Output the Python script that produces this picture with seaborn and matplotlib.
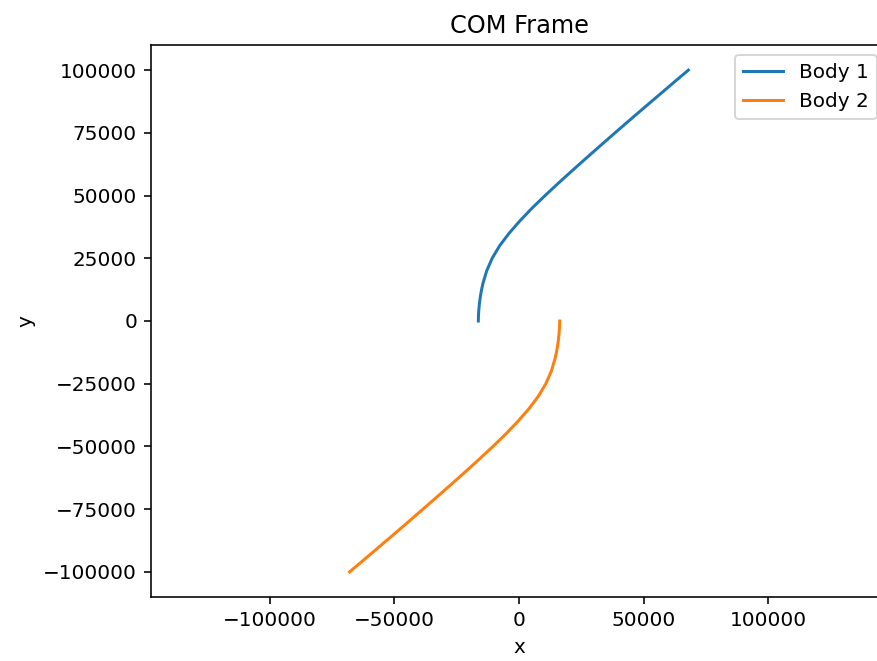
import matplotlib
matplotlib.use("Agg")
import matplotlib.pyplot as plt
import seaborn as sns
import pandas as pd

# Body 1 trajectory (COM frame)
body1_y = [0, 2500, 5000, 7500, 10000, 12500, 15000, 20000, 25000, 30000,
           35000, 40000, 45000, 50000, 55000, 60000, 65000, 70000, 75000, 80000,
           85000, 90000, 95000, 100000]
body1_x = [-16300, -16240, -16050, -15800, -15450, -15000, -14450, -12950, -10750, -7750,
           -3950, 450, 5250, 10450, 15850, 21400, 27050, 32750, 38500, 44300,
           50150, 56050, 61950, 67900]
# Body 2 trajectory (COM frame)
body2_y = [0, -2500, -5000, -7500, -10000, -12500, -15000, -20000, -25000, -30000,
           -35000, -40000, -45000, -50000, -55000, -60000, -65000, -70000, -75000, -80000,
           -85000, -90000, -95000, -100000]
body2_x = [16300, 16240, 16050, 15800, 15450, 15000, 14450, 12950, 10750, 7750,
           3950, -450, -5250, -10450, -15850, -21400, -27050, -32750, -38500, -44300,
           -50150, -56050, -61950, -67900]

labels = ["Body 1", "Body 2"]
x_ticks = [-100000, -50000, 0, 50000, 100000]
y_ticks = [-100000, -75000, -50000, -25000, 0, 25000, 50000, 75000, 100000]

df = pd.concat([
    pd.DataFrame({"x": body1_x, "y": body1_y, "body": labels[0]}),
    pd.DataFrame({"x": body2_x, "y": body2_y, "body": labels[1]}),
], ignore_index=True)

W, H = 877, 661
DPI = 144
fig = plt.figure(figsize=(W / DPI, H / DPI), dpi=DPI)
ax = fig.add_axes([151 / W, (H - 597) / H, (887 - 151) / W, (597 - 45) / H])

sns.lineplot(data=df, x="x", y="y", hue="body", sort=False, estimator=None,
             palette=["#1f77b4", "#ff7f0e"], linewidth=1.5, ax=ax)

ax.set_xlim(-147500, 147500)
ax.set_ylim(-110000, 110000)
ax.set_xticks(x_ticks)
ax.set_yticks(y_ticks)
ax.set_xlabel("x")
ax.set_ylabel("y")
ax.set_title("COM Frame")
ax.legend(loc="upper right", title=None)

fig.savefig("out.png", dpi=DPI)
